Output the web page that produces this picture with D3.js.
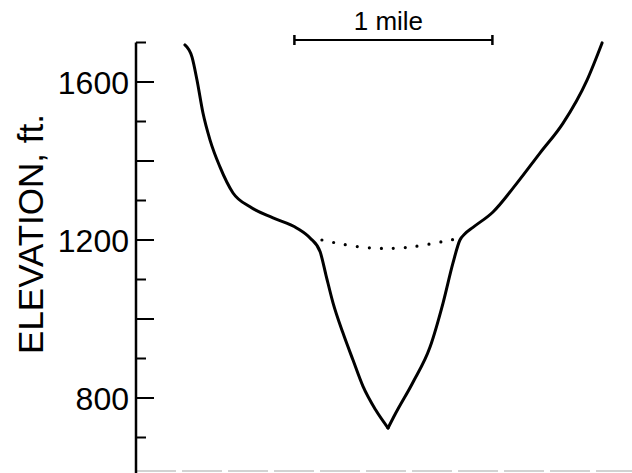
<!DOCTYPE html>
<html lang="en">
<head>
<meta charset="UTF-8">
<title>Valley cross-section</title>
<style>
  body { margin: 0; background: #fff; }
  svg { display: block; font-family: "Liberation Sans", Arial, sans-serif; }
</style>
</head>
<body>
<div id="chart"></div>
<script src="https://d3js.org/d3.v7.min.js"></script>
<script>
// distance across the valley in miles, elevation in feet
const profileMiles = [0.247, 0.283, 0.308, 0.338, 0.374, 0.424, 0.490, 0.576, 0.692, 0.813, 0.879, 0.930, 0.960, 0.995, 1.045, 1.096, 1.146, 1.210, 1.273,
                      1.310, 1.399, 1.485, 1.551, 1.601, 1.636, 1.660, 1.702, 1.803, 1.924, 2.040, 2.157, 2.278, 2.354];
const profileElev  = [1694, 1663, 1605, 1522, 1453, 1385, 1319, 1284, 1256, 1230, 1205, 1170, 1110, 1041, 965, 896, 830, 770, 724,
                      760, 840, 929, 1041, 1142, 1200, 1215, 1232, 1271, 1344, 1420, 1496, 1605, 1699];
// dotted line across the top of the inner gorge
const dottedMiles = [0.939, 1.126, 1.308, 1.439, 1.621];
const dottedElev  = [1200, 1180, 1177, 1185, 1203];
const tickValues = [700, 800, 900, 1000, 1100, 1200, 1300, 1400, 1500, 1600, 1700];
const tickLabels = ["800", "1200", "1600"];
const scaleBar = [0.8, 1.8];

const width = 632, height = 473;
const svg = d3.select("#chart").append("svg").attr("width", width).attr("height", height);

const x = d3.scaleLinear().domain([0, 1]).range([136, 334]);
const y = d3.scaleLinear().domain([800, 1600]).range([398, 82]);

// faint baseline
svg.append("line")
  .attr("x1", 136).attr("x2", width).attr("y1", 471).attr("y2", 471)
  .attr("stroke", "#c4c4c4").attr("stroke-width", 1.5).attr("stroke-dasharray", "40 6");

// vertical axis
svg.append("line")
  .attr("x1", x(0)).attr("x2", x(0)).attr("y1", y(1700)).attr("y2", height)
  .attr("stroke", "#000").attr("stroke-width", 2.5);

svg.selectAll(".tick").data(tickValues).enter().append("line")
  .attr("x1", x(0)).attr("y1", d => y(d)).attr("y2", d => y(d))
  .attr("x2", d => x(0) + (d % 200 === 0 ? 18 : 10))
  .attr("stroke", "#000").attr("stroke-width", 2);

svg.selectAll(".lab").data(tickLabels).enter().append("text")
  .attr("x", 129).attr("y", d => y(+d)).attr("dy", "0.36em")
  .attr("text-anchor", "end").attr("font-size", 32).text(d => d);

svg.append("text")
  .attr("transform", "translate(43,234) rotate(-90)")
  .attr("text-anchor", "middle").attr("font-size", 35)
  .text("ELEVATION, ft.");

// scale bar
const barY = 40;
svg.append("line").attr("x1", x(scaleBar[0])).attr("x2", x(scaleBar[1]))
  .attr("y1", barY).attr("y2", barY).attr("stroke", "#000").attr("stroke-width", 2);
svg.selectAll(".cap").data(scaleBar).enter().append("line")
  .attr("x1", d => x(d)).attr("x2", d => x(d)).attr("y1", barY - 5).attr("y2", barY + 5)
  .attr("stroke", "#000").attr("stroke-width", 2.5);
svg.append("text").attr("x", x((scaleBar[0] + scaleBar[1]) / 2) - 5).attr("y", 30)
  .attr("text-anchor", "middle").attr("font-size", 26).text("1 mile");

// profile, drawn as two walls meeting in a sharp point at the valley floor
const line = d3.line().x(d => x(d[0])).y(d => y(d[1])).curve(d3.curveMonotoneX);
const profile = d3.zip(profileMiles, profileElev);
const low = d3.minIndex(profileElev);
[profile.slice(0, low + 1), profile.slice(low)].forEach(wall => {
  svg.append("path").datum(wall).attr("d", line)
    .attr("fill", "none").attr("stroke", "#000").attr("stroke-width", 3)
    .attr("stroke-linejoin", "round").attr("stroke-linecap", "round");
});

svg.append("path").datum(d3.zip(dottedMiles, dottedElev)).attr("d", line.curve(d3.curveBasis))
  .attr("fill", "none").attr("stroke", "#000").attr("stroke-width", 3.2)
  .attr("stroke-linecap", "round").attr("stroke-dasharray", "0 12");
</script>
</body>
</html>
